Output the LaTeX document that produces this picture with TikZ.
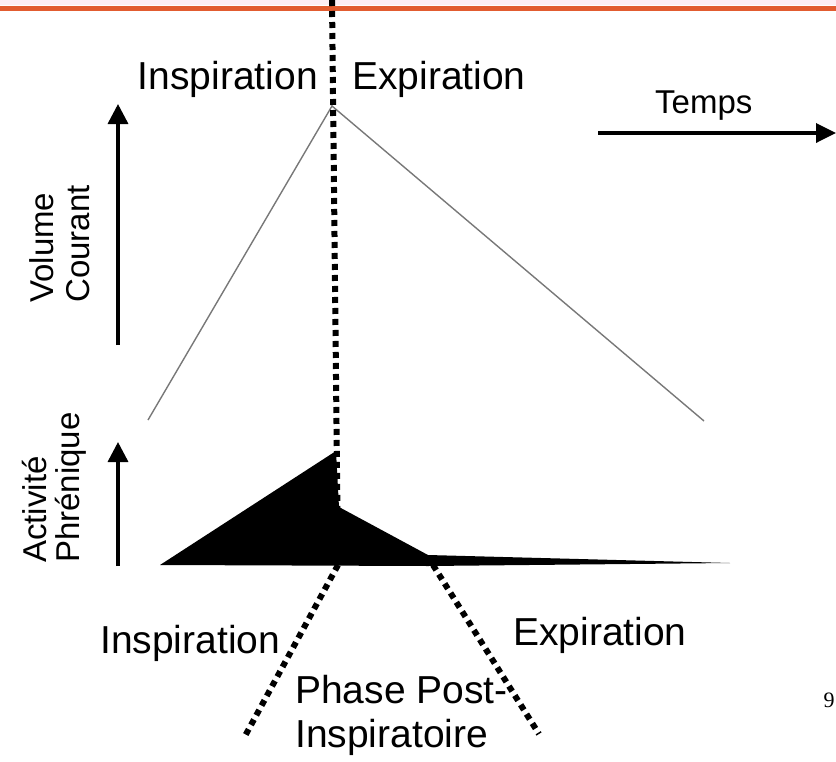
\documentclass[tikz,border=0pt]{standalone}
\usepackage{fontspec}
\setmainfont{Liberation Sans}
\newfontfamily\serifnum{Liberation Serif}
\usetikzlibrary{arrows.meta}
\definecolor{topline}{RGB}{226,92,48}
\definecolor{toppink}{RGB}{253,238,244}
\definecolor{volgray}{RGB}{120,120,120}
\begin{document}
\begin{tikzpicture}[x=1pt,y=-1pt,
  bigtxt/.style={inner sep=0pt,font=\fontsize{39}{44}\selectfont},
  sidetxt/.style={inner sep=0pt,rotate=90,font=\fontsize{33}{38}\selectfont},
  dotline/.style={line width=6pt,dash pattern=on 6pt off 5pt},
  axisarrow/.style={line width=3.5pt,-{Triangle[length=20pt,width=20pt]}},
  volline/.style={line width=1.4pt,volgray}]
\useasboundingbox (0,0) rectangle (836,761);
% top band
\fill[toppink] (0,0) rectangle (836,5);
\draw[topline,line width=5pt] (0,8) -- (836,8);
% coordinates
\coordinate (vtop) at (332,0);
\coordinate (vbot) at (338,565);
\coordinate (peak) at (332,106);
\coordinate (vstart) at (148,420);
\coordinate (vend) at (704,421);
% volume curve
\draw[volline] (vstart) -- (peak) -- (vend);
% phrenic activity shape
\fill[black] (160,565) -- (336,451) -- (339,507) -- (428,555) -- (730,563) -- (428,566) -- cycle;
% dotted lines
\coordinate (lbot) at (245,736);
\coordinate (rtop) at (433,565);
\coordinate (rbot) at (539,734);
\draw[dotline] (vtop) -- (vbot);
\draw[dotline] (vbot) -- (lbot);
\draw[dotline] (rtop) -- (rbot);
% axis arrows
\coordinate (va0) at (118,345);
\coordinate (va1) at (118,104);
\draw[axisarrow] (va0) -- (va1);
\coordinate (pa0) at (118,566);
\coordinate (pa1) at (118,442);
\draw[axisarrow] (pa0) -- (pa1);
\coordinate (ta0) at (598,133);
\coordinate (ta1) at (836,133);
\draw[line width=3.5pt,-{Triangle[length=20pt,width=19pt]}] (ta0) -- (ta1);
% texts
\node[bigtxt,anchor=base east] (insp) at (318,89) {Inspiration};
\node[bigtxt,anchor=base west] (exp) at (352,89) {Expiration};
\node[inner sep=0pt,anchor=base west,font=\fontsize{33}{38}\selectfont] (temps) at (655,113) {Temps};
\node[sidetxt,anchor=base west] (vol) at (53,303) {Volume};
\node[sidetxt,anchor=base west] (cour) at (89,303) {Courant};
\node[sidetxt,anchor=base west] (act) at (46,563) {Activité};
\node[sidetxt,anchor=base west] (phr) at (79,563) {Phrénique};
\node[bigtxt,anchor=base west] (binsp) at (100,653) {Inspiration};
\node[bigtxt,anchor=base west] (bexp) at (513,645) {Expiration};
\node[bigtxt,anchor=base west] (phase) at (295,703) {Phase Post-};
\node[bigtxt,anchor=base west] (inspi) at (295,747) {Inspiratoire};
\node[inner sep=0pt,anchor=base,font=\serifnum\fontsize{22}{24}\selectfont] (pnum) at (829,707) {9};
\end{tikzpicture}
\end{document}
